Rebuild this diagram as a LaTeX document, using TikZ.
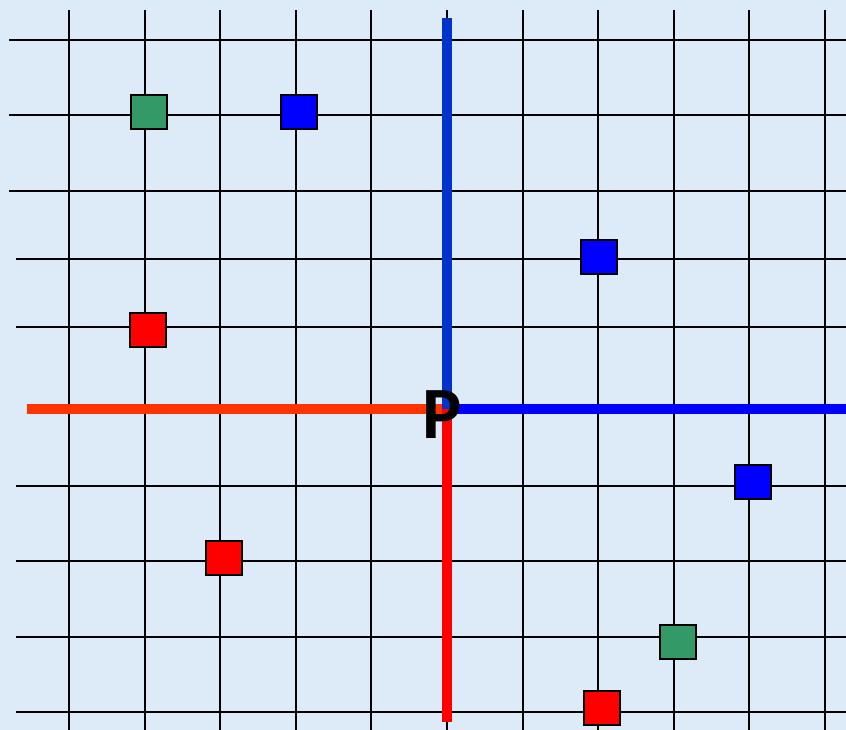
\documentclass[tikz,border=0pt]{standalone}
\usepackage{fontspec}
\newfontfamily\labelfont{Carlito}
\usepackage{tikz}
\usetikzlibrary{positioning}
\definecolor{bgblue}{RGB}{221,234,248}
\definecolor{axisorange}{RGB}{255,51,0}
\definecolor{axisblue}{RGB}{0,51,204}
\definecolor{markgreen}{RGB}{51,153,102}

\begin{document}
\begin{tikzpicture}[x=0.02cm, y=-0.02cm,
    gridline/.style={black, line width=1.1pt},
    axis/.style={line width=0.2cm},
    sq/.style={draw=black, line width=1.1pt, minimum width=0.72cm, minimum height=0.68cm, inner sep=0pt}]
        % background and frame
        \fill[bgblue] (0,0) rectangle (846,730);
        \useasboundingbox (0,0) rectangle (846,730);
        % grid
        \foreach \gx in {0,...,10}
          \draw[gridline] ({69+75.6*\gx},10) -- ({69+75.6*\gx},730);
        \foreach \gy in {40,115,191}
          \draw[gridline] (9,\gy) -- (846,\gy);
        \foreach \gy in {259,327,486,561,637,712}
          \draw[gridline] (16,\gy) -- (846,\gy);
        % the four half axes through P
        \coordinate (P) at (447,409);
        \coordinate (westend) at (27,409);
        \coordinate (eastend) at (846,409);
        \coordinate (northend) at (447,18);
        \coordinate (southend) at (447,722);
        \draw[axis, axisorange] (westend) -- (P);
        \draw[axis, blue] (P) -- (eastend);
        \draw[axis, red] (P) -- (southend);
        \draw[axis, axisblue] (northend) -- (P);
        \node[font=\labelfont\bfseries\fontsize{42}{42}\selectfont, inner sep=0pt] (plabel) at (442,415) {P};
        % squares
        \node[sq, fill=markgreen] (green1) at (149,112) {};
        \node[sq, fill=blue] (blue1) at (299,112) {};
        \node[sq, fill=blue] (blue2) at (599,257) {};
        \node[sq, fill=red] (red1) at (148,330) {};
        \node[sq, fill=blue] (blue3) at (753,482) {};
        \node[sq, fill=red] (red2) at (224,558) {};
        \node[sq, fill=markgreen] (green2) at (678,642) {};
        \node[sq, fill=red] (red3) at (602,708) {};
      \end{tikzpicture}
\end{document}
